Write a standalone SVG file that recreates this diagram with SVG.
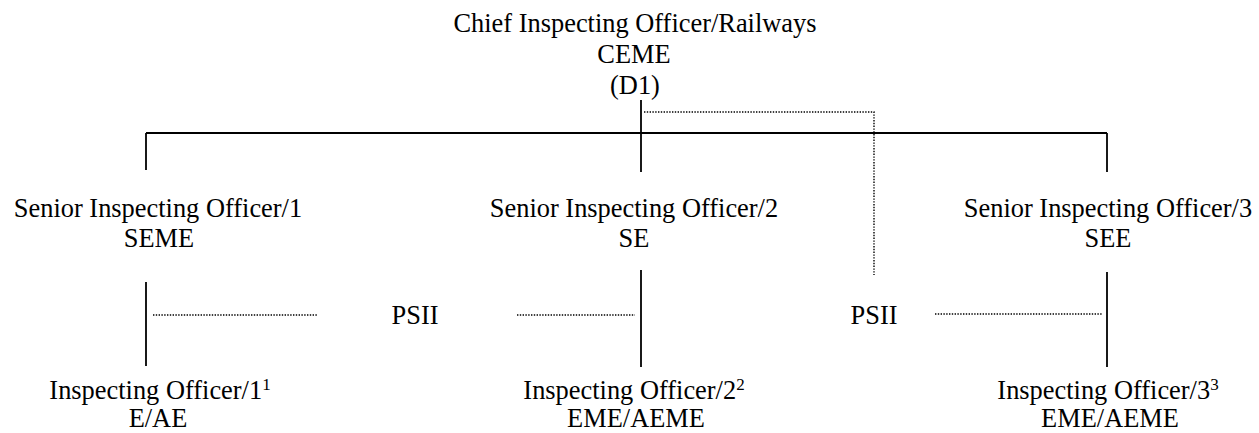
<svg xmlns="http://www.w3.org/2000/svg" width="1259" height="433" viewBox="0 0 1259 433">
<style>
text{font-family:"Liberation Serif","Times New Roman",serif;font-size:26.4px;fill:#000;text-anchor:middle}
.sup{font-size:17px}
.solid{stroke:#000;stroke-width:1.8;fill:none}
.dot{stroke:#000;stroke-width:1.4;stroke-dasharray:1.4 1.4;fill:none}
</style>
<rect width="1259" height="433" fill="#fff"/>
<g id="connectors">
<line class="solid" x1="641" y1="100" x2="641" y2="172"/>
<line class="solid" x1="146" y1="133" x2="1107" y2="133"/>
<line class="solid" x1="146" y1="133" x2="146" y2="170"/>
<line class="solid" x1="1107" y1="133" x2="1107" y2="172"/>
<polyline class="dot" points="644,112 874,112 874,275"/>
<line class="solid" x1="146" y1="282" x2="146" y2="366"/>
<line class="solid" x1="641" y1="270" x2="641" y2="367"/>
<line class="solid" x1="1107" y1="272" x2="1107" y2="367"/>
<line class="dot" x1="153" y1="315" x2="318" y2="315"/>
<line class="dot" x1="517" y1="315" x2="635" y2="315"/>
<line class="dot" x1="935" y1="314" x2="1102" y2="314"/>
</g>
<g id="chief">
<text x="635" y="32">Chief Inspecting Officer/Railways</text>
<text x="634" y="63">CEME</text>
<text x="635" y="94">(D1)</text>
</g>
<g id="senior1">
<text x="158" y="217">Senior Inspecting Officer/1</text>
<text x="159" y="247">SEME</text>
</g>
<g id="senior2">
<text x="634" y="217">Senior Inspecting Officer/2</text>
<text x="634" y="247">SE</text>
</g>
<g id="senior3">
<text x="1108" y="217">Senior Inspecting Officer/3</text>
<text x="1108" y="247">SEE</text>
</g>
<g id="psii1">
<text x="415" y="324">PSII</text>
</g>
<g id="psii2">
<text x="874" y="324">PSII</text>
</g>
<g id="officer1">
<text x="160" y="399">Inspecting Officer/1<tspan class="sup" dy="-9">1</tspan></text>
<text x="158" y="427">E/AE</text>
</g>
<g id="officer2">
<text x="634" y="399">Inspecting Officer/2<tspan class="sup" dy="-9">2</tspan></text>
<text x="636" y="427">EME/AEME</text>
</g>
<g id="officer3">
<text x="1108" y="399">Inspecting Officer/3<tspan class="sup" dy="-9">3</tspan></text>
<text x="1110" y="427">EME/AEME</text>
</g>
</svg>
